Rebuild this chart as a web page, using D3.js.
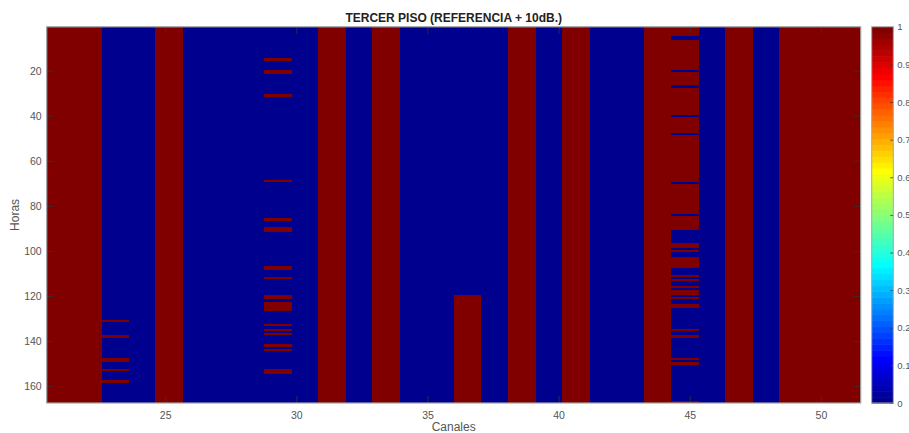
<!DOCTYPE html>
<html>
<head>
<meta charset="utf-8">
<script src="https://cdn.jsdelivr.net/npm/d3@7"></script>
<style>
  body { margin: 0; background: #fff; }
  text { font-family: "Liberation Sans", Arial, sans-serif; }
</style>
</head>
<body>
<script>
// hours in the week (rows) and channels (columns) of the image
const hourCount = 167
const channelCount = 30
const channelSpan = [21, 51] // centres of first and last column (imagesc x)

// columns that are at 1 for every hour
const alwaysOn = [0, 1, 4, 10, 12, 17, 19, 22, 25, 27, 28, 29]

// hours at 1 in the other columns, as [from, to] runs
const runsCol2 = [[131, 131], [138, 138], [148, 149], [153, 153], [158, 158]]
const runsCol8 = [[15, 15], [20, 21], [31, 31], [69, 69], [86, 86], [90, 91], [107, 108],
  [112, 112], [120, 121], [123, 126], [133, 133], [135, 135], [137, 137], [142, 142],
  [144, 144], [153, 154]]
const runsCol15 = [[120, 167]]
const runsCol23 = [[1, 4], [7, 19], [21, 26], [28, 39], [41, 47], [49, 69], [71, 83],
  [85, 90], [97, 98], [100, 100], [103, 107], [111, 111], [113, 113], [116, 116],
  [118, 119], [121, 121], [124, 125], [135, 135], [138, 138], [148, 148], [150, 150],
  [167, 167]]

const xTicks = [25, 30, 35, 40, 45, 50]
const yTicks = [20, 40, 60, 80, 100, 120, 140, 160]
const cbTicks = [0, 0.1, 0.2, 0.3, 0.4, 0.5, 0.6, 0.7, 0.8, 0.9, 1]

const width = 909, height = 433
const margin = {top: 26.8, bottom: 30, left: 46.7, right: 48.3}
const plotRight = width - margin.right
const plotBottom = height - margin.bottom
const cb = {x0: 871.7, x1: 893.3}
const axisGray = '#a6a6a6', tickGray = '#333', labelGray = '#555'

// matlab jet(m)
const jetMap = m => {
  const n = Math.ceil(m / 4)
  const u = [...d3.range(1, n + 1).map(i => i / n), ...d3.range(n - 1).map(() => 1),
    ...d3.range(n, 0, -1).map(i => i / n)]
  const g0 = Math.ceil(n / 2) - (m % 4 === 1 ? 1 : 0)
  const cols = d3.range(m).map(() => [0, 0, 0])
  u.forEach((v, k) => {
    const g = g0 + k + 1, r = g + n, b = g - n
    if (g >= 1 && g <= m) cols[g - 1][1] = v
    if (r >= 1 && r <= m) cols[r - 1][0] = v
    if (b >= 1 && b <= m) cols[b - 1][2] = v
  })
  return cols.map(c => d3.rgb(c[0] * 255, c[1] * 255, c[2] * 255).formatHex())
}
const jet = jetMap(64)
const color = v => jet[Math.min(63, Math.floor(v * 64))]

// build the matrix
const extraRuns = {2: runsCol2, 8: runsCol8, 15: runsCol15, 23: runsCol23}
const matrix = d3.range(channelCount).map(c => {
  const col = d3.range(hourCount).map(() => alwaysOn.includes(c) ? 1 : 0)
  ;(extraRuns[c] || []).forEach(([a, b]) => {
    for (let h = a; h <= b; h++) col[h - 1] = 1
  })
  return col
})

// runs of equal value per column, to draw as rects
const cells = []
matrix.forEach((col, c) => {
  let start = 0
  for (let h = 1; h <= col.length; h++) {
    if (h === col.length || col[h] !== col[start]) {
      cells.push({c, from: start + 1, to: h, v: col[start]})
      start = h
    }
  }
})

const svg = d3.select('body').append('svg')
  .attr('width', width).attr('height', height)

const half = (channelSpan[1] - channelSpan[0]) / (channelCount - 1) / 2
const xCol = d3.scaleBand().domain(d3.range(channelCount)).range([margin.left, plotRight])
const x = d3.scaleLinear().domain([channelSpan[0] - half, channelSpan[1] + half])
  .range([margin.left, plotRight])
const y = d3.scaleLinear().domain([0.5, hourCount + 0.5]).range([margin.top, plotBottom])

// quiet colour underneath so no seams show between columns
svg.append('rect')
  .attr('x', margin.left).attr('y', margin.top)
  .attr('width', plotRight - margin.left).attr('height', plotBottom - margin.top)
  .attr('fill', color(0))

svg.append('g').selectAll('rect')
  .data(cells.filter(d => d.v > 0))
  .enter().append('rect')
    .attr('x', d => xCol(d.c))
    .attr('width', d => Math.min(xCol.bandwidth() + 0.6, plotRight - xCol(d.c)))
    .attr('y', d => y(d.from - 0.5))
    .attr('height', d => y(d.to + 0.5) - y(d.from - 0.5))
    .attr('fill', d => color(d.v))
    .attr('shape-rendering', 'crispEdges')

// axes, matlab style ticks pointing in
const tickLen = 7
const bottomAx = d3.axisBottom(x).tickValues(xTicks).tickSizeInner(-tickLen).tickSizeOuter(0).tickPadding(9)
const topAx = d3.axisTop(x).tickValues(xTicks).tickSizeInner(-tickLen).tickSizeOuter(0).tickFormat('')
const leftAx = d3.axisLeft(y).tickValues(yTicks).tickSizeInner(-tickLen).tickSizeOuter(0).tickPadding(5)
const rightAx = d3.axisRight(y).tickValues(yTicks).tickSizeInner(-tickLen).tickSizeOuter(0).tickFormat('')

const styleAxis = g => {
  g.select('.domain').remove()
  g.selectAll('line').attr('stroke', tickGray).attr('stroke-width', 0.8)
  g.selectAll('text').attr('fill', labelGray).style('font-size', '10.5px')
}
svg.append('g').attr('transform', `translate(0,${plotBottom})`).call(bottomAx).call(styleAxis)
svg.append('g').attr('transform', `translate(0,${margin.top})`).call(topAx).call(styleAxis)
svg.append('g').attr('transform', `translate(${margin.left},0)`).call(leftAx).call(styleAxis)
svg.append('g').attr('transform', `translate(${plotRight},0)`).call(rightAx).call(styleAxis)

svg.append('rect')
  .attr('x', margin.left).attr('y', margin.top)
  .attr('width', plotRight - margin.left).attr('height', plotBottom - margin.top)
  .attr('fill', 'none').attr('stroke', axisGray).attr('stroke-width', 1.2)

// colorbar
const yc = d3.scaleLinear().domain([0, 1]).range([plotBottom, margin.top])
svg.append('g').selectAll('rect')
  .data(jet)
  .enter().append('rect')
    .attr('x', cb.x0)
    .attr('width', cb.x1 - cb.x0)
    .attr('y', (d, i) => yc((i + 1) / 64))
    .attr('height', (d, i) => yc(i / 64) - yc((i + 1) / 64) + 0.6)
    .attr('fill', d => d)

const cbAx = d3.axisRight(yc).tickValues(cbTicks).tickSizeInner(-3).tickSizeOuter(0)
  .tickPadding(4).tickFormat(d3.format('~g'))
svg.append('g').attr('transform', `translate(${cb.x1},0)`).call(cbAx).call(styleAxis)
  .selectAll('text').style('font-size', '9.5px')

svg.append('rect')
  .attr('x', cb.x0).attr('y', margin.top)
  .attr('width', cb.x1 - cb.x0).attr('height', plotBottom - margin.top)
  .attr('fill', 'none').attr('stroke', axisGray).attr('stroke-width', 1)

// labels
svg.append('text')
  .attr('x', (margin.left + plotRight) / 2).attr('y', 22)
  .attr('text-anchor', 'middle')
  .style('font-size', '12px').style('font-weight', 'bold').attr('fill', '#222')
  .text('TERCER PISO (REFERENCIA + 10dB.)')

svg.append('text')
  .attr('x', (margin.left + plotRight) / 2).attr('y', 431)
  .attr('text-anchor', 'middle')
  .style('font-size', '12px').attr('fill', labelGray)
  .text('Canales')

svg.append('text')
  .attr('transform', `translate(19,${(margin.top + plotBottom) / 2}) rotate(-90)`)
  .attr('text-anchor', 'middle')
  .style('font-size', '12px').attr('fill', labelGray)
  .text('Horas')
</script>
</body>
</html>
